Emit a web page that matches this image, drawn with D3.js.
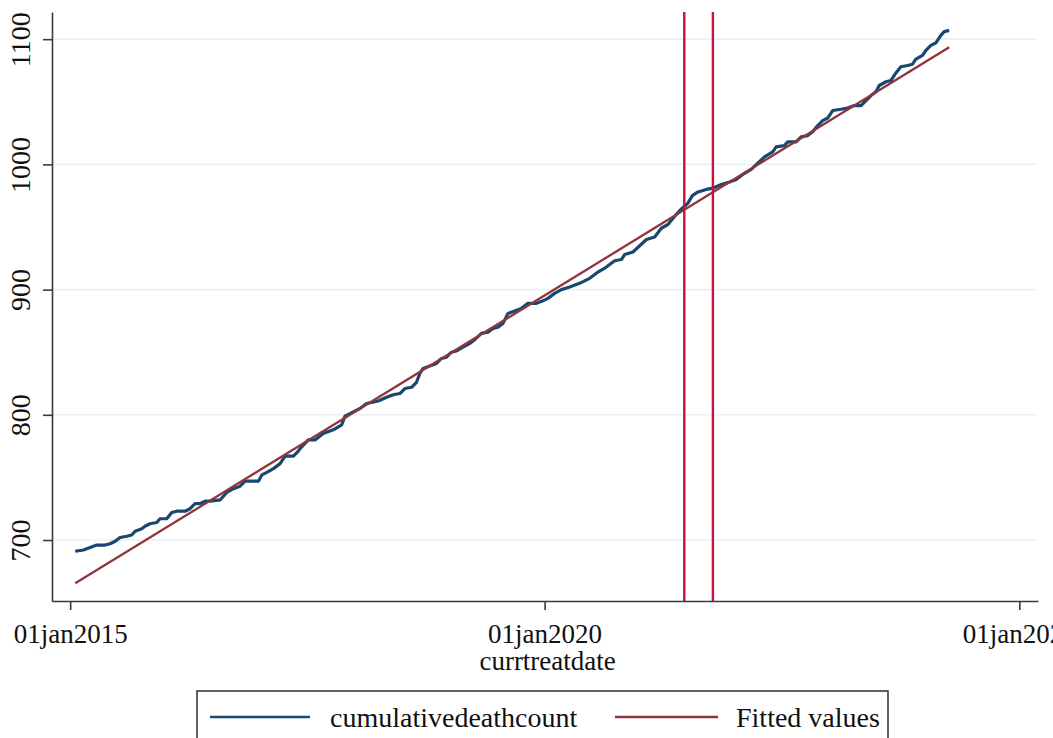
<!DOCTYPE html>
<html>
<head>
<meta charset="utf-8">
<script src="https://cdn.jsdelivr.net/npm/d3@7"></script>
<style>
  html, body { margin: 0; padding: 0; background: #ffffff; }
  svg { display: block; font-family: "Liberation Serif", "Times New Roman", serif; }
</style>
</head>
<body>
<svg id="chart" width="1053" height="738"></svg>
<script>
// Treatment dates as decimal years
const dateYears = [
  2015.053,2015.140,2015.245,2015.281,2015.368,2015.421,2015.474,2015.526,2015.597,2015.649,
  2015.684,2015.755,2015.789,2015.842,2015.913,2015.947,2016.018,2016.071,2016.123,2016.211,
  2016.263,2016.316,2016.368,2016.421,2016.474,2016.579,2016.614,2016.649,2016.719,2016.789,
  2016.842,2016.982,2017.018,2017.071,2017.140,2017.211,2017.263,2017.351,2017.403,2017.421,
  2017.508,2017.579,2017.666,2017.772,2017.860,2017.895,2017.947,2018.053,2018.123,2018.245,
  2018.334,2018.403,2018.474,2018.526,2018.597,2018.649,2018.684,2018.719,2018.789,2018.860,
  2018.912,2018.965,2019.018,2019.071,2019.140,2019.211,2019.263,2019.334,2019.403,2019.456,
  2019.508,2019.561,2019.614,2019.684,2019.755,2019.824,2019.913,2019.982,2020.035,2020.105,
  2020.176,2020.263,2020.368,2020.474,2020.561,2020.649,2020.737,2020.807,2020.842,2020.929,
  2021.000,2021.071,2021.158,2021.228,2021.298,2021.351,2021.421,2021.463,2021.508,2021.555,
  2021.614,2021.702,2021.772,2021.860,2021.947,2022.018,2022.087,2022.176,2022.245,2022.316,
  2022.403,2022.439,2022.526,2022.561,2022.649,2022.702,2022.772,2022.824,2022.877,2022.929,
  2022.982,2023.035,2023.123,2023.192,2023.263,2023.334,2023.386,2023.439,2023.491,2023.526,
  2023.597,2023.649,2023.702,2023.754,2023.824,2023.877,2023.912,2023.982,2024.018,2024.070,
  2024.123,2024.175,2024.211,2024.263
];

// Cumulative death count at each date
const deathCounts = [
  691,692,695,696,696,697,699,702,703,704,
  707,709,711,713,714,717,717,722,723,723,
  725,729,729,731,731,732,735,738,741,743,
  747,747,752,754,757,761,767,767,771,773,
  780,780,785,788,792,799,801,805,809,811,
  814,816,817,821,822,826,833,837,839,841,
  845,846,850,851,854,857,860,865,866,869,
  870,873,881,883,885,889,889,891,893,897,
  900,902,905,909,914,918,923,924,928,930,
  935,940,942,949,952,957,963,966,969,975,
  978,980,981,984,986,988,992,996,1001,1006,
  1010,1014,1015,1018,1018,1022,1023,1026,1031,1035,
  1037,1043,1044,1045,1047,1047,1051,1055,1058,1063,
  1066,1067,1073,1078,1079,1080,1084,1087,1091,1095,
  1097,1103,1106,1107
];

// Linear fit, evaluated at first and last dates
const fittedYears = [2015.053, 2024.263];
const fittedValues = [665.4, 1093.5];

// Reference dates marked with vertical lines
const xlineYears = [2021.470, 2021.772];

const yTicks = [700, 800, 900, 1000, 1100];
const xTickDates = ["2015-01-01", "2020-01-01", "2025-01-01"];
const xTickLabels = ["01jan2015", "01jan2020", "01jan2025"];
const legendLabels = ["cumulativedeathcount", "Fitted values"];

function yearToDate(t) {
  const y = Math.floor(t);
  const a = Date.UTC(y, 0, 1), b = Date.UTC(y + 1, 0, 1);
  return new Date(a + (t - y) * (b - a));
}

const svg = d3.select("#chart");
const W = 1053, H = 738;
const plot = { left: 52, right: 1038, top: 12, bottom: 601 };
const serif = "Liberation Serif, Times New Roman, serif";

svg.append("rect").attr("width", W).attr("height", H).attr("fill", "#ffffff");

const x = d3.scaleUtc()
  .domain([new Date(Date.UTC(2014, 9, 23)), new Date(Date.UTC(2025, 2, 14))])
  .range([plot.left, plot.right]);
const y = d3.scaleLinear()
  .domain([651.3, 1121.7])
  .range([plot.bottom, plot.top]);

// Horizontal grid
svg.append("g")
  .selectAll("line")
  .data(yTicks)
  .join("line")
  .attr("x1", plot.left).attr("x2", plot.right - 1)
  .attr("y1", d => y(d)).attr("y2", d => y(d))
  .attr("stroke", "#eaf2f3").attr("stroke-width", 1.6);

// Series
const series = dateYears.map((t, i) => ({ date: yearToDate(t), value: deathCounts[i] }));
const fitted = fittedYears.map((t, i) => ({ date: yearToDate(t), value: fittedValues[i] }));

const line = d3.line().x(d => x(d.date)).y(d => y(d.value));

svg.append("path")
  .datum(series)
  .attr("d", line)
  .attr("fill", "none")
  .attr("stroke", "#1a476f")
  .attr("stroke-width", 3.2)
  .attr("stroke-linejoin", "round");

svg.append("path")
  .datum(fitted)
  .attr("d", line)
  .attr("fill", "none")
  .attr("stroke", "#90353b")
  .attr("stroke-width", 2.3);

// Vertical reference lines
svg.append("g")
  .selectAll("line")
  .data(xlineYears)
  .join("line")
  .attr("x1", d => x(yearToDate(d))).attr("x2", d => x(yearToDate(d)))
  .attr("y1", plot.top).attr("y2", plot.bottom)
  .attr("stroke", "#c8143c").attr("stroke-width", 2.4);

// Y axis
const yAxis = svg.append("g")
  .attr("transform", `translate(${plot.left},0)`)
  .call(d3.axisLeft(y).tickValues(yTicks).tickSize(9).tickSizeOuter(0).tickFormat(d3.format("d")));
yAxis.select(".domain").attr("stroke", "#3a3a3a").attr("stroke-width", 1.6);
yAxis.selectAll(".tick line").attr("stroke", "#3a3a3a").attr("stroke-width", 1.6);
yAxis.selectAll(".tick text")
  .attr("x", null).attr("dy", null)
  .attr("text-anchor", "middle")
  .attr("transform", "translate(-22,0) rotate(-90)")
  .attr("fill", "#111111")
  .style("font-size", "28px")
  .style("font-family", serif);

// X axis
const xAxis = svg.append("g")
  .attr("transform", `translate(0,${plot.bottom})`)
  .call(d3.axisBottom(x)
    .tickValues(xTickDates.map(s => new Date(s + "T00:00:00Z")))
    .tickSize(9).tickSizeOuter(0)
    .tickFormat((d, i) => xTickLabels[i]));
xAxis.select(".domain").attr("stroke", "#3a3a3a").attr("stroke-width", 1.6);
xAxis.selectAll(".tick line").attr("stroke", "#3a3a3a").attr("stroke-width", 1.6);
xAxis.selectAll(".tick text")
  .attr("y", 42).attr("dy", null)
  .attr("fill", "#111111")
  .style("font-size", "27px")
  .style("font-family", serif);

// X axis title
svg.append("text")
  .attr("x", x(new Date("2020-01-01T00:00:00Z")) + 3)
  .attr("y", 670)
  .attr("text-anchor", "middle")
  .attr("fill", "#111111")
  .style("font-size", "27px")
  .text("currtreatdate");

// Legend
const legend = svg.append("g");
legend.append("rect")
  .attr("x", 197).attr("y", 691)
  .attr("width", 691).attr("height", 80)
  .attr("fill", "#ffffff")
  .attr("stroke", "#3a3a3a").attr("stroke-width", 1.6);

const legendItems = [
  { label: legendLabels[0], color: "#1a476f", x0: 210, x1: 310, tx: 330 },
  { label: legendLabels[1], color: "#90353b", x0: 615, x1: 718, tx: 736 }
];
legendItems.forEach(it => {
  legend.append("line")
    .attr("x1", it.x0).attr("x2", it.x1)
    .attr("y1", 717).attr("y2", 717)
    .attr("stroke", it.color).attr("stroke-width", 2.4);
  legend.append("text")
    .attr("x", it.tx).attr("y", 727)
    .attr("fill", "#111111")
    .style("font-size", "28px")
    .text(it.label);
});
</script>
</body>
</html>
